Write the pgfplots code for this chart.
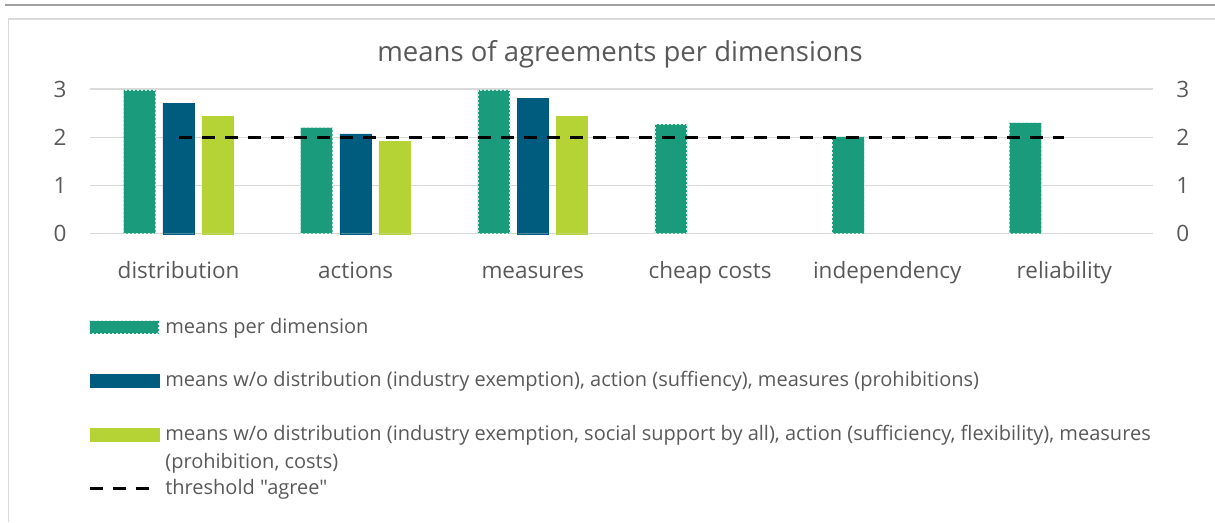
\documentclass[border=0pt]{standalone}
\usepackage{pgfplots}
\pgfplotsset{compat=1.18}
\usepackage{fontspec}
\setmainfont{Open Sans}[Ligatures=TeXOff]
\definecolor{cgreen}{HTML}{1A9B7C}
\definecolor{cblue}{HTML}{005C7E}
\definecolor{clime}{HTML}{B5D334}
\definecolor{ctext}{HTML}{595959}
\definecolor{cgrid}{HTML}{D9D9D9}
\definecolor{cframe}{HTML}{D9D9D9}
\definecolor{ctop}{HTML}{A0A0A0}
\definecolor{cgdash}{HTML}{D2ECE4}
\pgfplotsset{
  swatch legend/.style={legend image code/.code={\draw[##1,/tikz/.cd,yshift=6pt] (0pt,-6.5pt) rectangle (69pt,6.5pt);}},
  dash legend/.style={legend image code/.code={\draw[##1,/tikz/.cd,yshift=6pt] (0pt,0pt) -- (60pt,0pt);}},
}
\begin{document}
\begin{tikzpicture}
\useasboundingbox (-90pt,-288.3pt) rectangle (1125pt,233.7pt);
\draw[ctop, line width=2pt] (-85pt,228.2pt) -- (1125pt,228.2pt);
\draw[cframe, line width=1.3pt] (-81.5pt,-288.3pt) -- (-81.5pt,214.7pt) -- (1125pt,214.7pt);
\node[ctext, anchor=base, font=\fontsize{27.5}{32}\selectfont] at (530pt,172pt) {means of agreements per dimensions};
\begin{axis}[
  scale only axis,
  width=1063pt, height=144.7pt,
  xmin=-0.5, xmax=5.5, ymin=0, ymax=3,
  axis x line*=bottom, axis y line*=left,
  axis line style={draw=none},
  major tick length=0pt,
  ytick={0,1,2,3},
  ymajorgrids, grid style={cgrid, line width=1.3pt},
  xtick={0,1,2,3,4,5},
  xticklabels={distribution,actions,measures,cheap costs,independency,reliability},
  ticklabel style={ctext, font=\fontsize{22.5}{26}\selectfont},
  /pgf/number format/assume math mode=true,
  yticklabel style={xshift=-20pt},
  xticklabel style={anchor=base, yshift=-44.6pt},
  clip=false,
  legend cell align=left,
  legend style={at={(axis description cs:0,0)}, anchor=north west, xshift=-2pt, yshift=-72.3pt,
    draw=none, fill=none, inner sep=0pt, row sep=0pt, column sep=6pt,
    font=\fontsize{20}{28}\selectfont,
    nodes={inner sep=0pt, text height=27pt, text depth=26.7pt, anchor=base west, text=ctext}},
]
\addplot[ybar, bar width=32pt, bar shift=-39pt, fill=cgreen, draw=cgdash, line width=1.3pt, dash pattern=on 2pt off 2pt, swatch legend]
  coordinates {(0,2.98) (1,2.20) (2,2.98) (3,2.27) (4,2.01) (5,2.30)};
\addlegendentry{means per dimension}
\addplot[ybar, bar width=31.6pt, bar shift=0pt, fill=cblue, draw=cblue, line width=0.4pt, solid, swatch legend]
  coordinates {(0,2.70) (1,2.07) (2,2.81)};
\addlegendentry{means w/o distribution (industry exemption), action (suffiency), measures (prohibitions)}
\addplot[ybar, bar width=31.6pt, bar shift=39pt, fill=clime, draw=clime, line width=0.4pt, solid, swatch legend]
  coordinates {(0,2.44) (1,1.92) (2,2.44)};
\addlegendentry{\vtop{\hbox{means w/o distribution (industry exemption, social support by all), action (sufficiency, flexibility), measures}\hbox{(prohibition, costs)}}}
\addplot[sharp plot, black, line width=3pt, dash pattern=on 13pt off 10pt, dash legend]
  coordinates {(0,2) (5,2)};
\addlegendentry{threshold "agree"}
\end{axis}
\begin{axis}[
  scale only axis,
  width=1063pt, height=144.7pt,
  xmin=-0.5, xmax=5.5, ymin=0, ymax=3,
  axis y line*=right, axis x line=none,
  axis line style={draw=none},
  major tick length=0pt,
  ytick={0,1,2,3},
  ticklabel style={ctext, font=\fontsize{22.5}{26}\selectfont},
  /pgf/number format/assume math mode=true,
  yticklabel style={xshift=20pt},
]
\addplot[draw=none] coordinates {(0,0)};
\end{axis}
\end{tikzpicture}
\end{document}
